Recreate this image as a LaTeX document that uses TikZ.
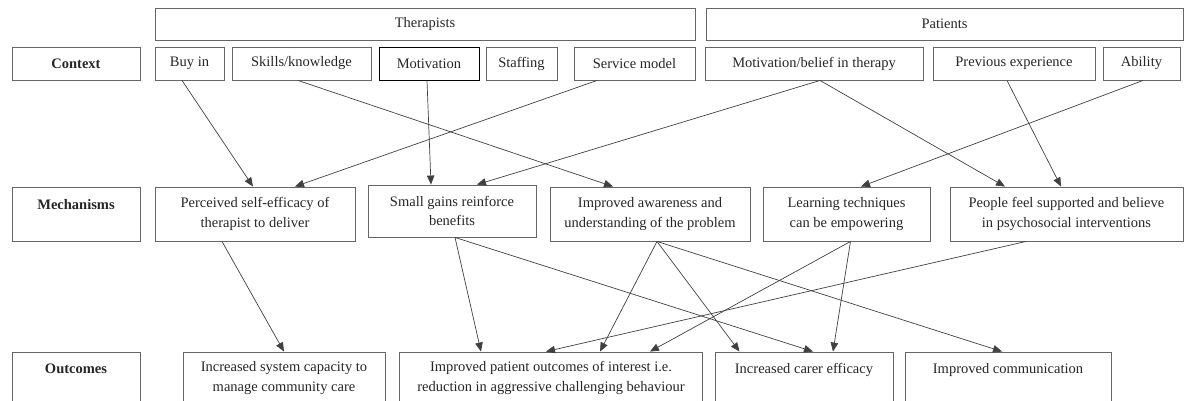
\documentclass[tikz,border=0pt]{standalone}
\usepackage{fontspec}
\setmainfont{Liberation Serif}
\usetikzlibrary{arrows.meta}
\begin{document}
\begin{tikzpicture}[x=1pt,y=-1pt,
    box/.style 2 args={draw=black!60, line width=0.9pt, align=center, inner sep=0pt,
        minimum width=#1pt, minimum height=#2pt, text=black!85,
        font=\fontsize{14.5}{19.5}\selectfont},
    link/.style={draw=black!75, line width=0.7pt, -{Triangle[length=9pt,width=7.5pt]}}]
            \useasboundingbox (0,0) rectangle (1187,400);

            \node[box={540}{32}] (thera) at (425,24) {Therapists};
            \node[box={477}{32}] (pat) at (944.5,24) {Patients};

            \node[box={128}{33}] (ctx) at (76,63.5) {\textbf{Context}};
            \node[box={69}{33}] (buyin) at (189.5,63.5) {Buy in};
            \node[box={139}{33}] (skills) at (301.5,63.5) {Skills/knowledge};
            \node[box={100}{33}, draw=black] (motiv) at (429,63.5) {Motivation};
            \node[box={71}{33}] (staff) at (521.5,63.5) {Staffing};
            \node[box={121}{33}] (service) at (634.5,63.5) {Service model};
            \node[box={218}{33}] (motbel) at (814,63.5) {Motivation/belief in therapy};
            \node[box={162}{33}] (prev) at (1014,63.5) {Previous experience};
            \node[box={77}{33}] (ability) at (1141.5,63.5) {Ability};

            \node[box={128}{54}] (mech) at (76,214) {\textbf{Mechanisms}\\ \mbox{}};
            \node[box={200}{54}] (perc) at (255,214) {Perceived self-efficacy of\\ therapist to deliver};
            \node[box={168}{52}] (small) at (452,211) {Small gains reinforce\\ benefits};
            \node[box={200}{54}] (aware) at (650,214) {Improved awareness and\\ understanding of the problem};
            \node[box={167}{54}] (learn) at (846.5,214) {Learning techniques\\ can be empowering};
            \node[box={233}{54}] (people) at (1066.5,214) {People feel supported and believe\\ in psychosocial interventions};

            \node[box={128}{52}] (outc) at (76,378) {\textbf{Outcomes}\\ \mbox{}};
            \node[box={202}{52}] (syscap) at (284,378) {Increased system capacity to\\ manage community care};
            \node[box={303}{52}] (ipo) at (551,378) {Improved patient outcomes of interest i.e.\\ reduction in aggressive challenging behaviour};
            \node[box={178}{52}] (carer) at (804,378) {Increased carer efficacy\\ \mbox{}};
            \node[box={206}{52}] (comm) at (1008,378) {Improved communication\\ \mbox{}};

            \draw[link] ([xshift=-7.5pt]buyin.south) -- ([xshift=-2pt]perc.north);
            \draw[link] ([xshift=-3.5pt]skills.south) -- ([xshift=-37pt]aware.north);
            \draw[link] ([xshift=-2pt]motiv.south) -- ([xshift=-21pt]small.north);
            \draw[link] ([xshift=-37.5pt]service.south) -- ([xshift=40pt]perc.north);
            \draw[link] ([xshift=6pt]motbel.south) -- ([xshift=25pt]small.north);
            \draw[link] ([xshift=6pt]motbel.south) -- ([xshift=-61.5pt]people.north);
            \draw[link] ([xshift=-7pt]prev.south) -- ([xshift=-5.5pt]people.north);
            \draw[link] ([xshift=1.5pt]ability.south) -- ([xshift=14.5pt]learn.north);

            \draw[link] ([xshift=-33pt]perc.south) -- (syscap.north);
            \draw[link] ([xshift=3pt]small.south) -- ([xshift=-70pt]ipo.north);
            \draw[link] ([xshift=3pt]small.south) -- ([xshift=9pt]carer.north);
            \draw[link] ([xshift=7pt]aware.south) -- ([xshift=49pt]ipo.north);
            \draw[link] ([xshift=7pt]aware.south) -- ([xshift=-64.5pt]carer.north);
            \draw[link] ([xshift=7pt]aware.south) -- ([xshift=-6pt]comm.north);
            \draw[link] ([xshift=4pt]learn.south) -- ([xshift=99pt]ipo.north);
            \draw[link] ([xshift=4pt]learn.south) -- ([xshift=29pt]carer.north);
            \draw[link] ([xshift=-40.5pt]people.south) -- ([xshift=-5pt]ipo.north);
        \end{tikzpicture}
\end{document}
